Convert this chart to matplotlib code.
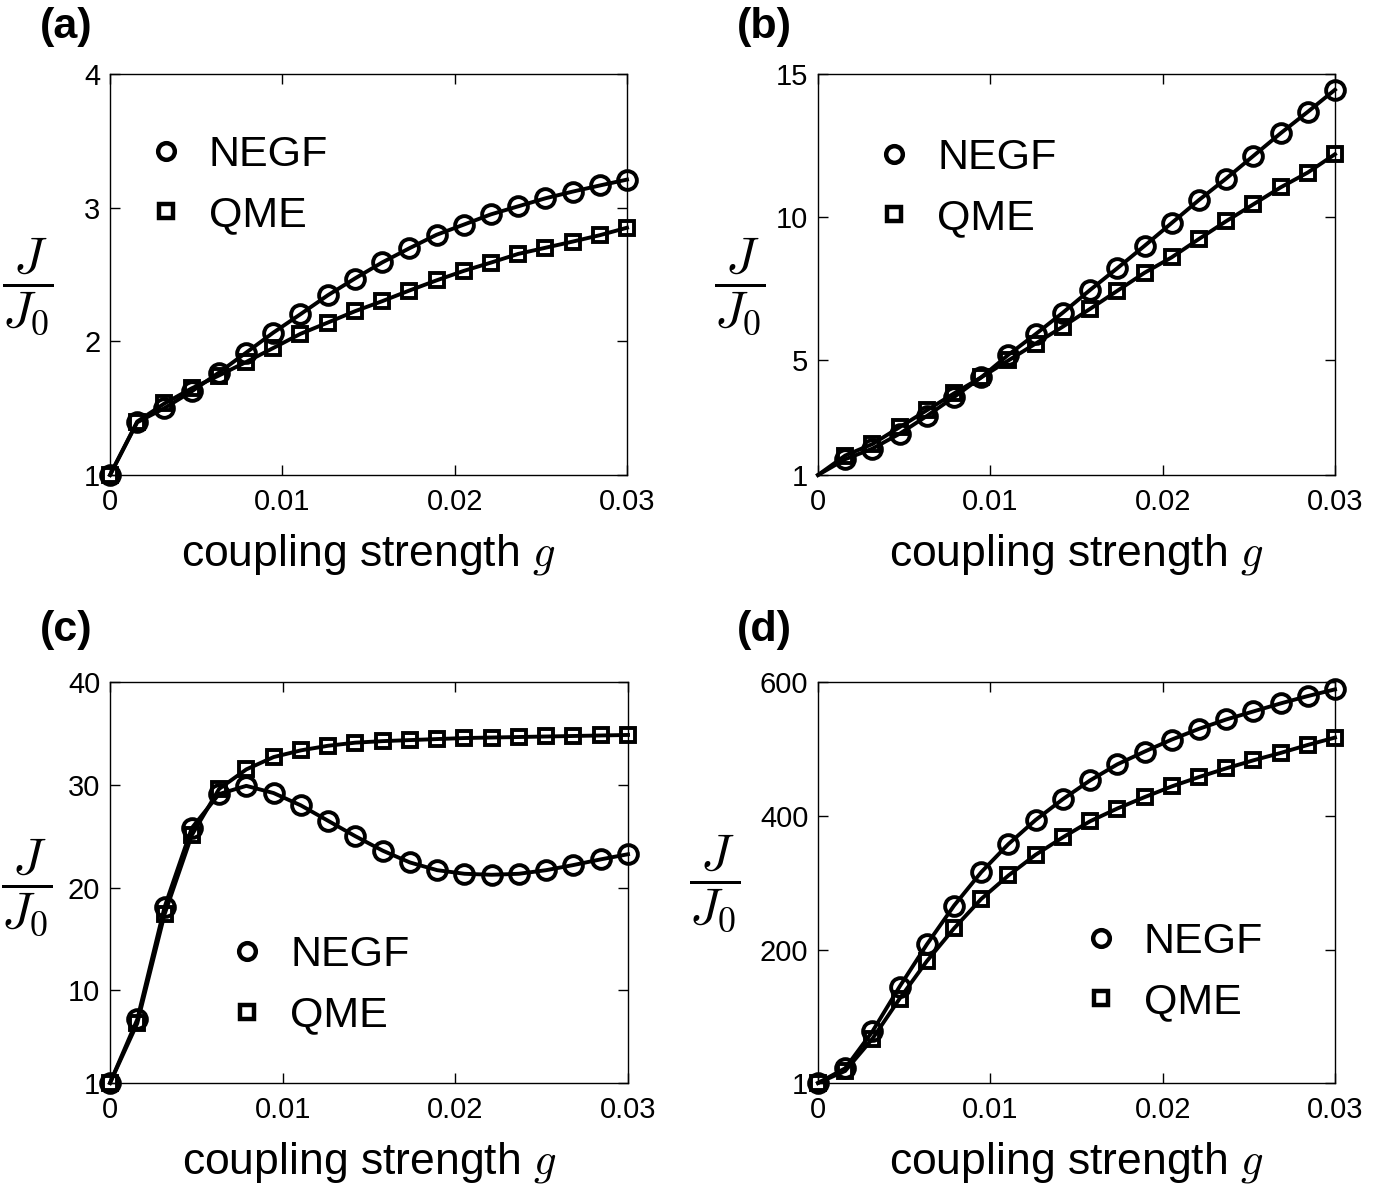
import numpy as np
import matplotlib
matplotlib.use("Agg")
import matplotlib.pyplot as plt
from matplotlib.lines import Line2D

plt.rcParams['font.family'] = ['Liberation Sans', 'DejaVu Sans']
plt.rcParams['mathtext.fontset'] = 'cm'

g = np.linspace(0, 0.03, 20)

negf_a = [1.0, 1.394, 1.50, 1.625, 1.766, 1.915, 2.065, 2.203, 2.344, 2.47,
          2.59, 2.696, 2.797, 2.873, 2.95, 3.01, 3.07, 3.12, 3.166, 3.21]
qme_a = [1.0, 1.40, 1.535, 1.648, 1.744, 1.845, 1.95, 2.056, 2.14, 2.225,
         2.30, 2.38, 2.456, 2.527, 2.589, 2.654, 2.70, 2.746, 2.794, 2.85]

negf_b = [1.0, 1.55, 1.92, 2.44, 3.06, 3.72, 4.41, 5.2, 5.92, 6.67,
          7.46, 8.22, 9.0, 9.8, 10.6, 11.35, 12.14, 12.93, 13.68, 14.45]
qme_b = [1.0, 1.68, 2.08, 2.67, 3.26, 3.85, 4.41, 5.0, 5.59, 6.18,
         6.8, 7.43, 8.06, 8.6, 9.24, 9.86, 10.45, 11.04, 11.56, 12.2]

negf_c = [1.0, 7.18, 18.1, 25.8, 29.1, 29.9, 29.2, 28.0, 26.5, 25.0,
          23.6, 22.45, 21.7, 21.35, 21.25, 21.35, 21.7, 22.2, 22.75, 23.25]
qme_c = [1.0, 6.8, 17.4, 25.1, 29.6, 31.5, 32.7, 33.35, 33.8, 34.1,
         34.25, 34.35, 34.45, 34.55, 34.6, 34.65, 34.7, 34.75, 34.8, 34.85]

negf_d = [1, 23, 78, 145, 208, 266, 316, 358, 394, 425,
          453, 477, 496, 514, 530, 544, 556, 568, 579, 589]
qme_d = [1, 19, 67, 127, 183, 232, 276, 311, 342, 368,
         392, 411, 428, 444, 458, 471, 483, 494, 506, 517]

yticks_a = [1, 2, 3, 4]
yticks_b = [1, 5, 10, 15]
yticks_c = [1, 10, 20, 30, 40]
yticks_d = [1, 200, 400, 600]
xticks = [0, 0.01, 0.02, 0.03]
xticklabels = ['0', '0.01', '0.02', '0.03']
panel_labels = ['(a)', '(b)', '(c)', '(d)']
series_labels = ['NEGF', 'QME']

W, H = 1400, 1186
fig = plt.figure(figsize=(W / 100, H / 100), dpi=100)

def box(l, r, t, b):
    return [l / W, 1 - b / H, (r - l) / W, (b - t) / H]

panels = [
    dict(pos=box(110, 627, 74, 475), n=negf_a, q=qme_a, yt=yticks_a,
         leg=(0.108, 0.723), ylab=(-0.159, 0.47), first=0, txt=(40, 27)),
    dict(pos=box(818, 1335, 74, 475), n=negf_b, q=qme_b, yt=yticks_b,
         leg=(0.147, 0.716), ylab=(-0.151, 0.47), first=1, txt=(737, 27)),
    dict(pos=box(110, 628, 682, 1083), n=negf_c, q=qme_c, yt=yticks_c,
         leg=(0.265, 0.243), ylab=(-0.16, 0.487), first=0, txt=(40, 630)),
    dict(pos=box(818, 1335, 682, 1083), n=negf_d, q=qme_d, yt=yticks_d,
         leg=(0.547, 0.277), ylab=(-0.199, 0.497), first=0, txt=(737, 630)),
]

lw = 2.8
mew = 2.8
for i, p in enumerate(panels):
    ax = fig.add_axes(p['pos'])
    me = slice(p['first'], None)
    ax.plot(g, p['n'], color='k', lw=lw, marker='o', ms=13.5, mfc='none',
            mec='k', mew=mew, markevery=me, clip_on=False)
    ax.plot(g, p['q'], color='k', lw=lw, marker='s', ms=9.5, mfc='none',
            mec='k', mew=mew, markevery=me, clip_on=False)
    ax.set_xlim(0, 0.03)
    ax.set_ylim(p['yt'][0], p['yt'][-1])
    ax.set_xticks(xticks)
    ax.set_xticklabels(xticklabels)
    ax.set_yticks(p['yt'])
    ax.tick_params(direction='in', top=True, right=True, length=7, width=1,
                   labelsize=21, pad=7)
    ax.tick_params(axis='x', pad=9)
    for s in ax.spines.values():
        s.set_linewidth(1)
    ax.set_xlabel('coupling strength $g$', fontsize=32, labelpad=12)
    ax.set_ylabel(r'$\dfrac{J}{J_0}$', fontsize=37, rotation=0,
                  va='center', ha='center')
    ax.yaxis.set_label_coords(*p['ylab'])
    handles = [Line2D([], [], ls='none', marker='o', ms=12, mfc='none', mec='k', mew=3.2),
               Line2D([], [], ls='none', marker='s', ms=10, mfc='none', mec='k', mew=3.2)]
    ax.legend(handles, series_labels, loc='center left',
              bbox_to_anchor=p['leg'], frameon=False, fontsize=31,
              handlelength=0.0, handletextpad=1.0, labelspacing=0.47,
              borderpad=0, borderaxespad=0)
    fig.text(p['txt'][0] / W, 1 - p['txt'][1] / H, panel_labels[i],
             fontsize=31, fontweight='bold', va='center', ha='left')

fig.savefig('out.png', dpi=100)
